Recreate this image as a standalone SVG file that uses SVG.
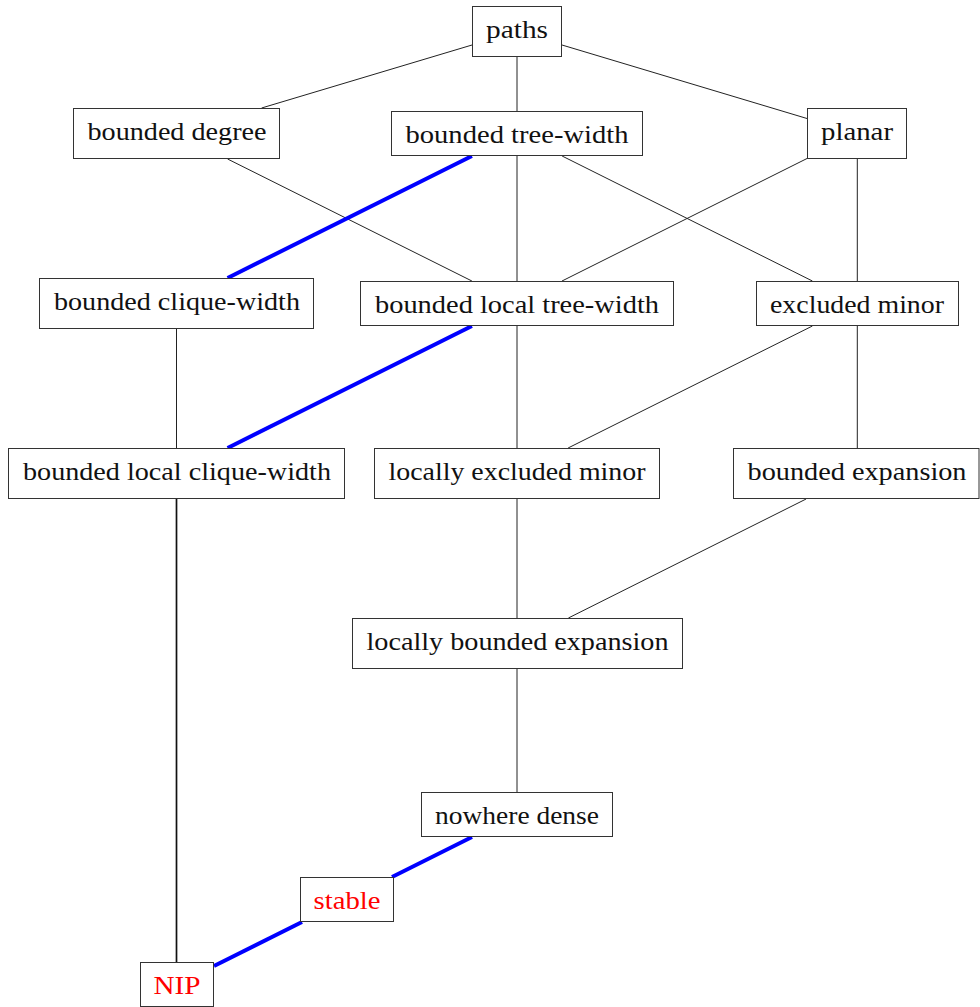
<svg xmlns="http://www.w3.org/2000/svg" width="980" height="1007" viewBox="0 0 980 1007">
<style>
.box{fill:#fff;stroke:#333;stroke-width:1}
.lbl{font-family:"Liberation Serif","Times New Roman",serif;font-size:26px;fill:#111;text-anchor:middle}
.red{fill:#ff0000}
.thin{stroke:#222;stroke-width:1;fill:none}
.blue{stroke:#0000ff;stroke-width:4;fill:none;stroke-linecap:butt}
.dark{stroke:#111;stroke-width:1.7;fill:none}
</style>
<rect width="980" height="1007" fill="#fff"/>
<g id="connectors">
<line class="thin" x1="472" y1="45" x2="261.6" y2="108"/>
<line class="thin" x1="517" y1="57" x2="517" y2="111"/>
<line class="thin" x1="562" y1="45" x2="807" y2="118.5"/>
<line class="thin" x1="227.6" y1="159" x2="471.9" y2="281"/>
<line class="blue" x1="471.9" y1="156" x2="227.6" y2="278"/>
<line class="thin" x1="517" y1="156" x2="517" y2="281"/>
<line class="thin" x1="562.1" y1="156" x2="812.4" y2="281"/>
<line class="thin" x1="807" y1="158.5" x2="562" y2="281"/>
<line class="thin" x1="857.3" y1="159" x2="857.3" y2="281"/>
<line class="thin" x1="176.5" y1="329" x2="176.5" y2="448"/>
<line class="blue" x1="471.9" y1="326" x2="227.6" y2="448"/>
<line class="thin" x1="517" y1="326" x2="517" y2="448"/>
<line class="thin" x1="812.4" y1="326" x2="568.1" y2="448"/>
<line class="thin" x1="857.3" y1="326" x2="857.3" y2="448"/>
<line class="thin" x1="517" y1="499" x2="517" y2="618"/>
<line class="thin" x1="806.1" y1="499" x2="568.4" y2="618"/>
<line class="thin" x1="517" y1="669" x2="517" y2="792"/>
<line class="blue" x1="472" y1="837" x2="392" y2="877"/>
<line class="blue" x1="302" y1="922" x2="214" y2="966"/>
<line class="dark" x1="176.5" y1="499" x2="176.5" y2="962"/>
</g>
<g id="paths"><rect class="box" x="472.5" y="6.5" width="89" height="50"/><text class="lbl" x="517" y="38" textLength="62" lengthAdjust="spacingAndGlyphs">paths</text></g>
<g id="bounded-degree"><rect class="box" x="73.5" y="108.5" width="206" height="50"/><text class="lbl" x="177" y="140" textLength="179" lengthAdjust="spacingAndGlyphs">bounded degree</text></g>
<g id="bounded-tree-width"><rect class="box" x="391.5" y="111.5" width="251" height="44"/><text class="lbl" x="517" y="143" textLength="223" lengthAdjust="spacingAndGlyphs">bounded tree-width</text></g>
<g id="planar"><rect class="box" x="807.5" y="108.5" width="99" height="50"/><text class="lbl" x="857" y="140" textLength="72" lengthAdjust="spacingAndGlyphs">planar</text></g>
<g id="bounded-clique-width"><rect class="box" x="39.5" y="278.5" width="274" height="50"/><text class="lbl" x="177" y="310" textLength="246" lengthAdjust="spacingAndGlyphs">bounded clique-width</text></g>
<g id="bounded-local-tree-width"><rect class="box" x="360.5" y="281.5" width="313" height="44"/><text class="lbl" x="517" y="313" textLength="284" lengthAdjust="spacingAndGlyphs">bounded local tree-width</text></g>
<g id="excluded-minor"><rect class="box" x="756.5" y="281.5" width="202" height="44"/><text class="lbl" x="857" y="313" textLength="174" lengthAdjust="spacingAndGlyphs">excluded minor</text></g>
<g id="bounded-local-clique-width"><rect class="box" x="8.5" y="448.5" width="336" height="50"/><text class="lbl" x="177" y="480" textLength="308" lengthAdjust="spacingAndGlyphs">bounded local clique-width</text></g>
<g id="locally-excluded-minor"><rect class="box" x="374.5" y="448.5" width="285" height="50"/><text class="lbl" x="517" y="480" textLength="257" lengthAdjust="spacingAndGlyphs">locally excluded minor</text></g>
<g id="bounded-expansion"><rect class="box" x="733.5" y="448.5" width="245.5" height="50"/><text class="lbl" x="857" y="480" textLength="219" lengthAdjust="spacingAndGlyphs">bounded expansion</text></g>
<g id="locally-bounded-expansion"><rect class="box" x="352.5" y="618.5" width="330" height="50"/><text class="lbl" x="517.5" y="650" textLength="302" lengthAdjust="spacingAndGlyphs">locally bounded expansion</text></g>
<g id="nowhere-dense"><rect class="box" x="421.5" y="792.5" width="191" height="44"/><text class="lbl" x="517" y="824" textLength="164" lengthAdjust="spacingAndGlyphs">nowhere dense</text></g>
<g id="stable"><rect class="box" x="300.5" y="877.5" width="93" height="44"/><text class="lbl red" x="347" y="909" textLength="67" lengthAdjust="spacingAndGlyphs">stable</text></g>
<g id="NIP"><rect class="box" x="140.5" y="962.5" width="73" height="44"/><text class="lbl red" x="177" y="994" textLength="47" lengthAdjust="spacingAndGlyphs">NIP</text></g>
</svg>
